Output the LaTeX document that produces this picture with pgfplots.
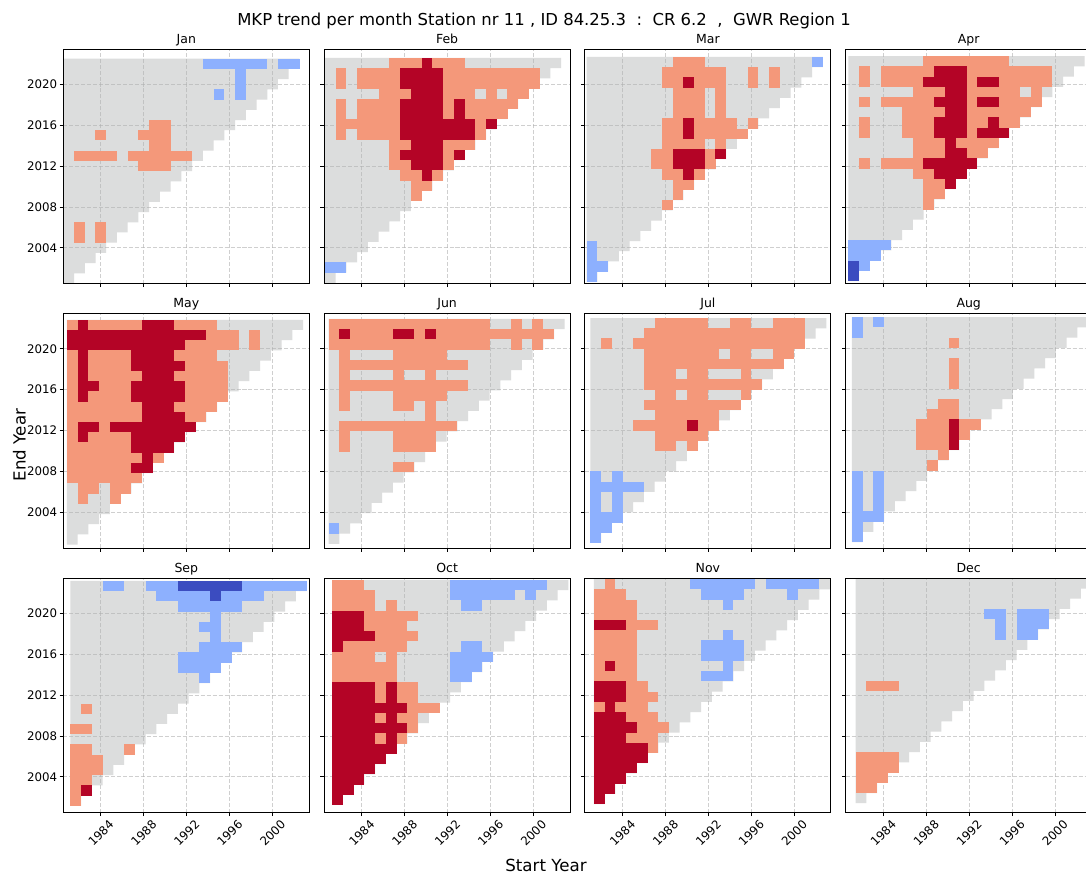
\documentclass[border=0pt]{standalone}
\usepackage{pgfplots}
\pgfplotsset{compat=1.18}
\usepackage{pgfplotstable}
\usepackage{fontspec}
\setmainfont{DejaVu Sans}

\definecolor{cG}{HTML}{DCDDDD}
\definecolor{cL}{HTML}{F4987A}
\definecolor{cD}{HTML}{B40426}
\definecolor{cb}{HTML}{8DB0FE}
\definecolor{cB}{HTML}{3B4CC0}
\definecolor{gridc}{HTML}{B0B0B0}

% one cell of the start/end year grid (1 year x 1 year at this axis size)
\pgfdeclareplotmark{cell}{%
  \pgfpathrectangle{\pgfqpoint{-3.89pt}{-3.705pt}}{\pgfqpoint{7.78pt}{7.41pt}}%
  \pgfusepathqfill}

% outline of the triangle of all (start, end) pairs with end - start >= 20
\pgfplotstableread{
x y
1980.5 2000.5
1981.5 2000.5
1981.5 2001.5
1982.5 2001.5
1982.5 2002.5
1983.5 2002.5
1983.5 2003.5
1984.5 2003.5
1984.5 2004.5
1985.5 2004.5
1985.5 2005.5
1986.5 2005.5
1986.5 2006.5
1987.5 2006.5
1987.5 2007.5
1988.5 2007.5
1988.5 2008.5
1989.5 2008.5
1989.5 2009.5
1990.5 2009.5
1990.5 2010.5
1991.5 2010.5
1991.5 2011.5
1992.5 2011.5
1992.5 2012.5
1993.5 2012.5
1993.5 2013.5
1994.5 2013.5
1994.5 2014.5
1995.5 2014.5
1995.5 2015.5
1996.5 2015.5
1996.5 2016.5
1997.5 2016.5
1997.5 2017.5
1998.5 2017.5
1998.5 2018.5
1999.5 2018.5
1999.5 2019.5
2000.5 2019.5
2000.5 2020.5
2001.5 2020.5
2001.5 2021.5
2002.5 2021.5
2002.5 2022.5
1980.5 2022.5
}\tri

\pgfplotsset{
  panel/.style={
    scale only axis, width=177.12pt, height=168.7pt,
    anchor=north west,
    xmin=1980.5, xmax=2003.41667, ymin=2000.5, ymax=2023.41667,
    enlargelimits=false,
    xtick={1984,1988,1992,1996,2000},
    ytick={2004,2008,2012,2016,2020},
    tick pos=left,
    tick align=outside, major tick length=2.6pt,
    tick style={black, line width=0.6pt},
    axis line style={black, line width=0.6pt},
    grid=major,
    grid style={gridc, opacity=0.6, line width=0.6pt, dash pattern=on 2.9pt off 1.4pt},
    axis on top,
    xticklabels={}, yticklabels={},
    title style={font=\fontsize{9}{11}\selectfont, at={(0.5,1)}, anchor=base, yshift=-1.8pt},
    tick label style={font=\fontsize{8.5}{10}\selectfont, inner sep=0pt},
    yticklabel style={anchor=east, xshift=-1.7pt},
  },
  moff/.style={x filter/.expression={x+#1}, y filter/.expression={y+#1}},
  ylab/.style={yticklabels={2004,2008,2012,2016,2020}},
  xlab/.style={xticklabels={1984,1988,1992,1996,2000},
    xticklabel style={yshift=-12.2pt, rotate=45, anchor=center}},
  pT/.style={fill=cG, draw=none},
  pL/.style={only marks, mark=cell, color=cL},
  pD/.style={only marks, mark=cell, color=cD},
  pb/.style={only marks, mark=cell, color=cb},
  pB/.style={only marks, mark=cell, color=cB},
}

\begin{document}
\begin{tikzpicture}
\useasboundingbox (0,0) rectangle (781.92pt,631.44pt);
\clip (0,0) rectangle (781.92pt,631.44pt);
\fill[white] (0,0) rectangle (781.92pt,631.44pt);

\node[anchor=base, font=\fontsize{11.85}{14}\selectfont] at (391.7pt,613.3pt)
  {MKP trend per month Station nr 11 , ID 84.25.3\ \ :\ \ CR 6.2\ \ ,\ \ GWR Region 1};
\node[anchor=base, font=\fontsize{12}{14}\selectfont] at (393.1pt,3.6pt) {Start Year};
\node[anchor=base, rotate=90, font=\fontsize{12}{14}\selectfont] at (18.4pt,311pt) {End Year};

% ---------------- Jan
\begin{axis}[panel, at={(45.58pt,595.94pt)}, title=Jan, moff=0, ylab]
\addplot[pT] table {\tri};
\addplot[pb] coordinates {(1994,2022)(1995,2022)(1996,2022)(1997,2022)(1998,2022)(1999,2022)(2001,2022)(2002,2022)(1997,2021)(1997,2020)(1995,2019)(1997,2019)};
\addplot[pL] coordinates {(1989,2016)(1990,2016)(1984,2015)(1988,2015)(1989,2015)(1990,2015)(1989,2014)(1990,2014)
 (1982,2013)(1983,2013)(1984,2013)(1985,2013)(1987,2013)(1988,2013)(1989,2013)(1990,2013)(1991,2013)(1992,2013)
 (1988,2012)(1989,2012)(1990,2012)(1982,2006)(1984,2006)(1982,2005)(1984,2005)};
\end{axis}

% ---------------- Feb
\begin{axis}[panel, at={(233.35pt,595.94pt)}, title=Feb, moff=0.08333]
\addplot[pT] table {\tri};
\addplot[pL] coordinates {
 (1987,2022)(1988,2022)(1989,2022)(1991,2022)(1992,2022)(1993,2022)
 (1982,2021)(1984,2021)(1985,2021)(1986,2021)(1987,2021)(1992,2021)(1993,2021)(1994,2021)(1995,2021)(1996,2021)(1997,2021)(1998,2021)(1999,2021)(2000,2021)
 (1982,2020)(1984,2020)(1985,2020)(1986,2020)(1987,2020)(1992,2020)(1993,2020)(1994,2020)(1995,2020)(1996,2020)(1997,2020)(1998,2020)(1999,2020)(2000,2020)
 (1986,2019)(1987,2019)(1988,2019)(1992,2019)(1993,2019)(1994,2019)(1996,2019)(1998,2019)(1999,2019)
 (1982,2018)(1984,2018)(1985,2018)(1986,2018)(1987,2018)(1992,2018)(1994,2018)(1995,2018)(1996,2018)(1997,2018)(1998,2018)
 (1982,2017)(1984,2017)(1985,2017)(1986,2017)(1987,2017)(1992,2017)(1994,2017)(1995,2017)(1996,2017)(1997,2017)
 (1982,2016)(1983,2016)(1984,2016)(1985,2016)(1986,2016)(1987,2016)(1995,2016)
 (1982,2015)(1984,2015)(1985,2015)(1986,2015)(1987,2015)(1995,2015)
 (1987,2014)(1988,2014)(1992,2014)(1993,2014)(1994,2014)
 (1987,2013)(1992,2013)
 (1987,2012)(1988,2012)(1992,2012)
 (1988,2011)(1989,2011)(1991,2011)
 (1989,2010)(1990,2010)
 (1989,2009)};
\addplot[pD] coordinates {
 (1990,2022)
 (1988,2021)(1989,2021)(1990,2021)(1991,2021)
 (1988,2020)(1989,2020)(1990,2020)(1991,2020)
 (1989,2019)(1990,2019)(1991,2019)
 (1988,2018)(1989,2018)(1990,2018)(1991,2018)(1993,2018)
 (1988,2017)(1989,2017)(1990,2017)(1991,2017)(1993,2017)
 (1988,2016)(1989,2016)(1990,2016)(1991,2016)(1992,2016)(1993,2016)(1994,2016)(1996,2016)
 (1988,2015)(1989,2015)(1990,2015)(1991,2015)(1992,2015)(1993,2015)(1994,2015)
 (1989,2014)(1990,2014)(1991,2014)
 (1988,2013)(1989,2013)(1990,2013)(1991,2013)(1993,2013)
 (1989,2012)(1990,2012)(1991,2012)
 (1990,2011)};
\addplot[pb] coordinates {(1981,2002)(1982,2002)};
\end{axis}

% ---------------- Mar
\begin{axis}[panel, at={(421.13pt,595.94pt)}, title=Mar, moff=0.16667]
\addplot[pT] table {\tri};
\addplot[pL] coordinates {
 (1989,2022)(1990,2022)(1991,2022)
 (1988,2021)(1989,2021)(1990,2021)(1991,2021)(1992,2021)(1993,2021)(1996,2021)(1998,2021)
 (1988,2020)(1989,2020)(1991,2020)(1992,2020)(1993,2020)(1996,2020)(1998,2020)
 (1989,2019)(1990,2019)(1991,2019)(1993,2019)
 (1989,2018)(1990,2018)(1991,2018)(1993,2018)
 (1989,2017)(1990,2017)(1991,2017)(1993,2017)
 (1988,2016)(1989,2016)(1991,2016)(1992,2016)(1993,2016)(1994,2016)(1996,2016)
 (1988,2015)(1989,2015)(1991,2015)(1992,2015)(1993,2015)(1994,2015)(1995,2015)
 (1988,2014)(1989,2014)(1990,2014)(1991,2014)(1993,2014)
 (1987,2013)(1988,2013)(1992,2013)
 (1987,2012)(1988,2012)(1992,2012)
 (1988,2011)(1989,2011)(1991,2011)
 (1989,2010)(1990,2010)
 (1989,2009)
 (1988,2008)};
\addplot[pD] coordinates {(1990,2020)(1990,2016)(1990,2015)(1989,2013)(1990,2013)(1991,2013)(1993,2013)(1989,2012)(1990,2012)(1991,2012)(1990,2011)};
\addplot[pb] coordinates {(2002,2022)(1981,2004)(1981,2003)(1981,2002)(1982,2002)(1981,2001)};
\end{axis}

% ---------------- Apr
\begin{axis}[panel, at={(608.90pt,595.94pt)}, title=Apr, moff=0.25]
\addplot[pT] table {\tri};
\addplot[pL] coordinates {
 (1988,2022)(1989,2022)(1990,2022)(1991,2022)(1992,2022)(1993,2022)(1994,2022)(1995,2022)
 (1982,2021)(1984,2021)(1985,2021)(1986,2021)(1987,2021)(1988,2021)(1992,2021)(1993,2021)(1994,2021)(1995,2021)(1996,2021)(1997,2021)(1998,2021)(1999,2021)
 (1982,2020)(1984,2020)(1985,2020)(1986,2020)(1987,2020)(1992,2020)(1995,2020)(1996,2020)(1997,2020)(1998,2020)(1999,2020)
 (1987,2019)(1988,2019)(1989,2019)(1992,2019)(1993,2019)(1994,2019)(1995,2019)(1996,2019)(1998,2019)
 (1982,2018)(1984,2018)(1985,2018)(1986,2018)(1987,2018)(1988,2018)(1992,2018)(1995,2018)(1996,2018)(1997,2018)(1998,2018)
 (1986,2017)(1987,2017)(1988,2017)(1989,2017)(1992,2017)(1993,2017)(1994,2017)(1995,2017)(1996,2017)(1997,2017)
 (1982,2016)(1986,2016)(1987,2016)(1988,2016)(1992,2016)(1993,2016)(1995,2016)(1996,2016)
 (1982,2015)(1986,2015)(1987,2015)(1988,2015)(1992,2015)
 (1987,2014)(1988,2014)(1989,2014)(1991,2014)(1992,2014)(1993,2014)(1994,2014)
 (1987,2013)(1988,2013)(1989,2013)(1992,2013)(1993,2013)
 (1982,2012)(1984,2012)(1985,2012)(1986,2012)(1987,2012)
 (1987,2011)(1988,2011)
 (1988,2010)(1989,2010)
 (1988,2009)(1989,2009)
 (1988,2008)};
\addplot[pD] coordinates {
 (1989,2021)(1990,2021)(1991,2021)
 (1988,2020)(1989,2020)(1990,2020)(1991,2020)(1993,2020)(1994,2020)
 (1990,2019)(1991,2019)
 (1989,2018)(1990,2018)(1991,2018)(1993,2018)(1994,2018)
 (1990,2017)(1991,2017)
 (1989,2016)(1990,2016)(1991,2016)(1994,2016)
 (1989,2015)(1990,2015)(1991,2015)(1993,2015)(1994,2015)(1995,2015)
 (1990,2014)
 (1990,2013)(1991,2013)
 (1988,2012)(1989,2012)(1990,2012)(1991,2012)(1992,2012)
 (1989,2011)(1990,2011)(1991,2011)
 (1990,2010)};
\addplot[pb] coordinates {(1981,2004)(1982,2004)(1983,2004)(1984,2004)(1981,2003)(1982,2003)(1983,2003)(1982,2002)};
\addplot[pB] coordinates {(1981,2002)(1981,2001)};
\end{axis}

% ---------------- May
\begin{axis}[panel, at={(45.58pt,405.50pt)}, title=May, moff=0.33333, ylab]
\addplot[pT] table {\tri};
\addplot[pL] coordinates {
 (1981,2022)(1983,2022)(1984,2022)(1985,2022)(1986,2022)(1987,2022)(1991,2022)(1992,2022)(1993,2022)(1994,2022)
 (1994,2021)(1995,2021)(1996,2021)(1998,2021)
 (1992,2020)(1993,2020)(1994,2020)(1995,2020)(1996,2020)(1998,2020)
 (1981,2019)(1983,2019)(1984,2019)(1985,2019)(1986,2019)(1991,2019)(1992,2019)(1993,2019)(1994,2019)
 (1981,2018)(1983,2018)(1984,2018)(1985,2018)(1986,2018)(1992,2018)(1993,2018)(1994,2018)(1995,2018)
 (1981,2017)(1983,2017)(1984,2017)(1985,2017)(1986,2017)(1987,2017)(1991,2017)(1992,2017)(1993,2017)(1994,2017)(1995,2017)
 (1981,2016)(1984,2016)(1985,2016)(1986,2016)(1992,2016)(1993,2016)(1994,2016)(1995,2016)
 (1981,2015)(1983,2015)(1984,2015)(1985,2015)(1986,2015)(1992,2015)(1993,2015)(1994,2015)(1995,2015)
 (1981,2014)(1982,2014)(1983,2014)(1984,2014)(1985,2014)(1986,2014)(1987,2014)(1991,2014)(1992,2014)(1993,2014)(1994,2014)
 (1981,2013)(1982,2013)(1983,2013)(1984,2013)(1985,2013)(1986,2013)(1987,2013)(1992,2013)(1993,2013)
 (1981,2012)(1984,2012)
 (1981,2011)(1983,2011)(1984,2011)(1985,2011)(1986,2011)
 (1981,2010)(1982,2010)(1983,2010)(1984,2010)(1985,2010)(1986,2010)
 (1981,2009)(1982,2009)(1983,2009)(1984,2009)(1985,2009)(1986,2009)(1987,2009)(1989,2009)
 (1981,2008)(1982,2008)(1983,2008)(1984,2008)(1985,2008)(1986,2008)
 (1981,2007)(1982,2007)(1983,2007)(1984,2007)(1985,2007)(1986,2007)(1987,2007)
 (1982,2006)(1983,2006)(1985,2006)(1986,2006)
 (1982,2005)(1985,2005)};
\addplot[pD] coordinates {
 (1982,2022)(1988,2022)(1989,2022)(1990,2022)
 (1981,2021)(1982,2021)(1983,2021)(1984,2021)(1985,2021)(1986,2021)(1987,2021)(1988,2021)(1989,2021)(1990,2021)(1991,2021)(1992,2021)(1993,2021)
 (1981,2020)(1982,2020)(1983,2020)(1984,2020)(1985,2020)(1986,2020)(1987,2020)(1988,2020)(1989,2020)(1990,2020)(1991,2020)
 (1982,2019)(1987,2019)(1988,2019)(1989,2019)(1990,2019)
 (1982,2018)(1987,2018)(1988,2018)(1989,2018)(1990,2018)(1991,2018)
 (1982,2017)(1988,2017)(1989,2017)(1990,2017)
 (1982,2016)(1983,2016)(1987,2016)(1988,2016)(1989,2016)(1990,2016)(1991,2016)
 (1982,2015)(1987,2015)(1988,2015)(1989,2015)(1990,2015)(1991,2015)
 (1988,2014)(1989,2014)(1990,2014)
 (1988,2013)(1989,2013)(1990,2013)(1991,2013)
 (1982,2012)(1983,2012)(1985,2012)(1986,2012)(1987,2012)(1988,2012)(1989,2012)(1990,2012)(1991,2012)(1992,2012)
 (1982,2011)(1987,2011)(1988,2011)(1989,2011)(1990,2011)(1991,2011)
 (1987,2010)(1988,2010)(1989,2010)(1990,2010)
 (1988,2009)
 (1987,2008)(1988,2008)};
\end{axis}

% ---------------- Jun
\begin{axis}[panel, at={(233.35pt,405.50pt)}, title=Jun, moff=0.41667]
\addplot[pT] table {\tri};
\addplot[pL] coordinates {
 (1981,2022)(1982,2022)(1983,2022)(1984,2022)(1985,2022)(1986,2022)(1987,2022)(1988,2022)(1989,2022)(1990,2022)(1991,2022)(1992,2022)(1993,2022)(1994,2022)(1995,2022)(1998,2022)(2000,2022)
 (1981,2021)(1983,2021)(1984,2021)(1985,2021)(1986,2021)(1989,2021)(1991,2021)(1992,2021)(1993,2021)(1994,2021)(1995,2021)(1996,2021)(1997,2021)(1998,2021)(1999,2021)(2000,2021)(2001,2021)
 (1981,2020)(1982,2020)(1983,2020)(1984,2020)(1985,2020)(1986,2020)(1987,2020)(1988,2020)(1989,2020)(1990,2020)(1991,2020)(1992,2020)(1993,2020)(1994,2020)(1995,2020)(1998,2020)(2000,2020)
 (1982,2019)(1987,2019)(1988,2019)(1989,2019)(1990,2019)(1991,2019)
 (1982,2018)(1983,2018)(1984,2018)(1985,2018)(1986,2018)(1987,2018)(1988,2018)(1989,2018)(1990,2018)(1991,2018)(1992,2018)(1993,2018)
 (1982,2017)(1987,2017)(1990,2017)
 (1982,2016)(1983,2016)(1984,2016)(1985,2016)(1986,2016)(1987,2016)(1988,2016)(1989,2016)(1990,2016)(1991,2016)(1992,2016)(1993,2016)
 (1982,2015)(1987,2015)(1988,2015)(1989,2015)(1990,2015)(1991,2015)
 (1982,2014)(1987,2014)(1988,2014)(1990,2014)
 (1990,2013)
 (1982,2012)(1983,2012)(1984,2012)(1985,2012)(1986,2012)(1987,2012)(1988,2012)(1989,2012)(1990,2012)(1991,2012)(1992,2012)
 (1982,2011)(1987,2011)(1988,2011)(1989,2011)(1990,2011)
 (1982,2010)(1987,2010)(1988,2010)(1989,2010)(1990,2010)
 (1987,2008)(1988,2008)};
\addplot[pD] coordinates {(1982,2021)(1987,2021)(1988,2021)(1990,2021)};
\addplot[pb] coordinates {(1981,2002)};
\end{axis}

% ---------------- Jul
\begin{axis}[panel, at={(421.13pt,405.50pt)}, title=Jul, moff=0.5]
\addplot[pT] table {\tri};
\addplot[pL] coordinates {
 (1987,2022)(1988,2022)(1989,2022)(1990,2022)(1991,2022)(1994,2022)(1995,2022)(1998,2022)(1999,2022)(2000,2022)
 (1986,2021)(1987,2021)(1988,2021)(1989,2021)(1990,2021)(1991,2021)(1992,2021)(1993,2021)(1994,2021)(1995,2021)(1996,2021)(1997,2021)(1998,2021)(1999,2021)(2000,2021)
 (1982,2020)(1985,2020)(1986,2020)(1987,2020)(1988,2020)(1989,2020)(1990,2020)(1991,2020)(1992,2020)(1993,2020)(1994,2020)(1995,2020)(1996,2020)(1997,2020)(1998,2020)(1999,2020)(2000,2020)
 (1986,2019)(1987,2019)(1988,2019)(1989,2019)(1990,2019)(1991,2019)(1992,2019)(1994,2019)(1995,2019)(1998,2019)(1999,2019)
 (1986,2018)(1987,2018)(1988,2018)(1989,2018)(1990,2018)(1991,2018)(1992,2018)(1993,2018)(1994,2018)(1995,2018)(1996,2018)(1997,2018)(1998,2018)
 (1986,2017)(1987,2017)(1988,2017)(1990,2017)(1991,2017)(1995,2017)
 (1986,2016)(1987,2016)(1988,2016)(1989,2016)(1990,2016)(1991,2016)(1992,2016)(1993,2016)(1994,2016)(1995,2016)(1996,2016)
 (1987,2015)(1988,2015)(1990,2015)(1991,2015)(1995,2015)
 (1986,2014)(1987,2014)(1988,2014)(1989,2014)(1990,2014)(1991,2014)(1992,2014)(1993,2014)(1994,2014)
 (1987,2013)(1988,2013)(1989,2013)(1990,2013)(1991,2013)(1992,2013)
 (1985,2012)(1986,2012)(1987,2012)(1988,2012)(1989,2012)(1991,2012)(1992,2012)
 (1987,2011)(1988,2011)(1989,2011)(1990,2011)(1991,2011)
 (1987,2010)(1988,2010)(1990,2010)};
\addplot[pD] coordinates {(1990,2012)};
\addplot[pb] coordinates {(1981,2007)(1983,2007)(1981,2006)(1982,2006)(1983,2006)(1984,2006)(1985,2006)(1981,2005)(1983,2005)(1981,2004)(1983,2004)(1981,2003)(1982,2003)(1983,2003)(1981,2002)(1982,2002)(1981,2001)};
\end{axis}

% ---------------- Aug
\begin{axis}[panel, at={(608.90pt,405.50pt)}, title=Aug, moff=0.58333]
\addplot[pT] table {\tri};
\addplot[pL] coordinates {(1990,2020)(1990,2018)(1990,2017)(1990,2016)(1989,2014)(1990,2014)(1988,2013)(1989,2013)(1990,2013)
 (1987,2012)(1988,2012)(1989,2012)(1991,2012)(1992,2012)(1987,2011)(1988,2011)(1989,2011)(1991,2011)
 (1987,2010)(1988,2010)(1989,2010)(1989,2009)(1988,2008)};
\addplot[pD] coordinates {(1990,2012)(1990,2011)(1990,2010)};
\addplot[pb] coordinates {(1981,2022)(1983,2022)(1981,2021)(1981,2007)(1983,2007)(1981,2006)(1983,2006)(1981,2005)(1983,2005)(1981,2004)(1983,2004)(1981,2003)(1982,2003)(1983,2003)(1981,2002)(1981,2001)};
\end{axis}

% ---------------- Sep
\begin{axis}[panel, at={(45.58pt,215.06pt)}, title=Sep, moff=0.66667, ylab, xlab]
\addplot[pT] table {\tri};
\addplot[pb] coordinates {
 (1984,2022)(1985,2022)(1988,2022)(1989,2022)(1990,2022)(1997,2022)(1998,2022)(1999,2022)(2000,2022)(2001,2022)(2002,2022)
 (1989,2021)(1990,2021)(1991,2021)(1992,2021)(1993,2021)(1995,2021)(1996,2021)(1997,2021)(1998,2021)
 (1991,2020)(1992,2020)(1993,2020)(1994,2020)(1995,2020)(1996,2020)
 (1994,2019)(1993,2018)(1994,2018)(1994,2017)
 (1993,2016)(1994,2016)(1995,2016)(1996,2016)
 (1991,2015)(1992,2015)(1993,2015)(1994,2015)(1995,2015)
 (1991,2014)(1992,2014)(1993,2014)(1994,2014)
 (1993,2013)};
\addplot[pB] coordinates {(1991,2022)(1992,2022)(1993,2022)(1994,2022)(1995,2022)(1996,2022)(1994,2021)};
\addplot[pL] coordinates {(1982,2010)(1981,2008)(1982,2008)(1981,2006)(1982,2006)(1986,2006)(1981,2005)(1982,2005)(1983,2005)
 (1981,2004)(1982,2004)(1983,2004)(1981,2003)(1982,2003)(1981,2002)(1981,2001)};
\addplot[pD] coordinates {(1982,2002)};
\end{axis}

% ---------------- Oct
\begin{axis}[panel, at={(233.35pt,215.06pt)}, title=Oct, moff=0.75, xlab]
\addplot[pT] table {\tri};
\addplot[pL] coordinates {
 (1981,2022)(1982,2022)(1983,2022)
 (1981,2021)(1982,2021)(1983,2021)(1984,2021)
 (1981,2020)(1982,2020)(1983,2020)(1984,2020)(1986,2020)
 (1984,2019)(1985,2019)(1986,2019)(1987,2019)(1988,2019)
 (1984,2018)(1985,2018)(1986,2018)(1987,2018)
 (1985,2017)(1986,2017)(1987,2017)(1988,2017)
 (1982,2016)(1983,2016)(1984,2016)(1985,2016)(1986,2016)(1987,2016)
 (1981,2015)(1982,2015)(1983,2015)(1984,2015)(1986,2015)
 (1981,2014)(1982,2014)(1983,2014)(1984,2014)(1985,2014)(1986,2014)
 (1981,2013)(1982,2013)(1983,2013)(1984,2013)(1985,2013)(1986,2013)
 (1985,2012)(1987,2012)(1988,2012)
 (1985,2011)(1987,2011)(1988,2011)
 (1988,2010)(1989,2010)(1990,2010)
 (1985,2009)(1987,2009)(1988,2009)
 (1988,2008)
 (1985,2007)(1987,2007)};
\addplot[pD] coordinates {
 (1981,2019)(1982,2019)(1983,2019)
 (1981,2018)(1982,2018)(1983,2018)
 (1981,2017)(1982,2017)(1983,2017)(1984,2017)
 (1981,2016)
 (1981,2012)(1982,2012)(1983,2012)(1984,2012)(1986,2012)
 (1981,2011)(1982,2011)(1983,2011)(1984,2011)(1986,2011)
 (1981,2010)(1982,2010)(1983,2010)(1984,2010)(1985,2010)(1986,2010)(1987,2010)
 (1981,2009)(1982,2009)(1983,2009)(1984,2009)(1986,2009)
 (1981,2008)(1982,2008)(1983,2008)(1984,2008)(1985,2008)(1986,2008)(1987,2008)
 (1981,2007)(1982,2007)(1983,2007)(1984,2007)(1986,2007)
 (1981,2006)(1982,2006)(1983,2006)(1984,2006)(1985,2006)(1986,2006)
 (1981,2005)(1982,2005)(1983,2005)(1984,2005)(1985,2005)
 (1981,2004)(1982,2004)(1983,2004)(1984,2004)
 (1981,2003)(1982,2003)(1983,2003)
 (1981,2002)(1982,2002)
 (1981,2001)};
\addplot[pb] coordinates {
 (1992,2022)(1993,2022)(1994,2022)(1995,2022)(1996,2022)(1997,2022)(1998,2022)(1999,2022)(2000,2022)
 (1992,2021)(1993,2021)(1994,2021)(1995,2021)(1996,2021)(1997,2021)(1999,2021)
 (1993,2020)(1994,2020)
 (1993,2016)(1994,2016)
 (1992,2015)(1993,2015)(1994,2015)(1995,2015)
 (1992,2014)(1993,2014)(1994,2014)
 (1992,2013)(1993,2013)};
\end{axis}

% ---------------- Nov
\begin{axis}[panel, at={(421.13pt,215.06pt)}, title=Nov, moff=0.83333, xlab]
\addplot[pT] table {\tri};
\addplot[pL] coordinates {
 (1982,2022)
 (1981,2021)(1982,2021)(1983,2021)
 (1981,2020)(1982,2020)(1983,2020)(1984,2020)
 (1981,2019)(1982,2019)(1983,2019)(1984,2019)
 (1984,2018)(1985,2018)(1986,2018)
 (1981,2017)(1982,2017)(1983,2017)(1984,2017)
 (1981,2016)(1982,2016)(1983,2016)(1984,2016)
 (1981,2015)(1982,2015)(1983,2015)(1984,2015)
 (1981,2014)(1983,2014)(1984,2014)
 (1981,2013)(1982,2013)(1983,2013)(1984,2013)
 (1984,2012)(1985,2012)
 (1984,2011)(1985,2011)(1986,2011)
 (1981,2010)(1983,2010)(1984,2010)(1985,2010)
 (1984,2009)(1985,2009)(1986,2009)
 (1985,2008)(1986,2008)(1987,2008)
 (1984,2007)(1985,2007)(1986,2007)
 (1986,2006)};
\addplot[pD] coordinates {
 (1981,2018)(1982,2018)(1983,2018)
 (1982,2014)
 (1981,2012)(1982,2012)(1983,2012)
 (1981,2011)(1982,2011)(1983,2011)
 (1982,2010)
 (1981,2009)(1982,2009)(1983,2009)
 (1981,2008)(1982,2008)(1983,2008)(1984,2008)
 (1981,2007)(1982,2007)(1983,2007)
 (1981,2006)(1982,2006)(1983,2006)(1984,2006)(1985,2006)
 (1981,2005)(1982,2005)(1983,2005)(1984,2005)(1985,2005)
 (1981,2004)(1982,2004)(1983,2004)(1984,2004)
 (1981,2003)(1982,2003)(1983,2003)
 (1981,2002)(1982,2002)
 (1981,2001)};
\addplot[pb] coordinates {
 (1990,2022)(1991,2022)(1992,2022)(1993,2022)(1994,2022)(1995,2022)(1997,2022)(1998,2022)(1999,2022)(2000,2022)(2001,2022)
 (1991,2021)(1992,2021)(1993,2021)(1994,2021)(1999,2021)
 (1993,2020)(1993,2017)
 (1991,2016)(1992,2016)(1993,2016)(1994,2016)
 (1991,2015)(1992,2015)(1993,2015)(1994,2015)
 (1993,2014)
 (1991,2013)(1992,2013)(1993,2013)};
\end{axis}

% ---------------- Dec
\begin{axis}[panel, at={(608.90pt,215.06pt)}, title=Dec, moff=0.91667, xlab]
\addplot[pT] table {\tri};
\addplot[pb] coordinates {(1993,2019)(1994,2019)(1996,2019)(1997,2019)(1998,2019)(1994,2018)(1996,2018)(1997,2018)(1998,2018)(1994,2017)(1996,2017)(1997,2017)};
\addplot[pL] coordinates {(1982,2012)(1983,2012)(1984,2012)(1981,2005)(1982,2005)(1983,2005)(1984,2005)(1981,2004)(1982,2004)(1983,2004)(1984,2004)(1981,2003)(1982,2003)(1983,2003)(1981,2002)(1982,2002)};
\end{axis}
\end{tikzpicture}
\end{document}
